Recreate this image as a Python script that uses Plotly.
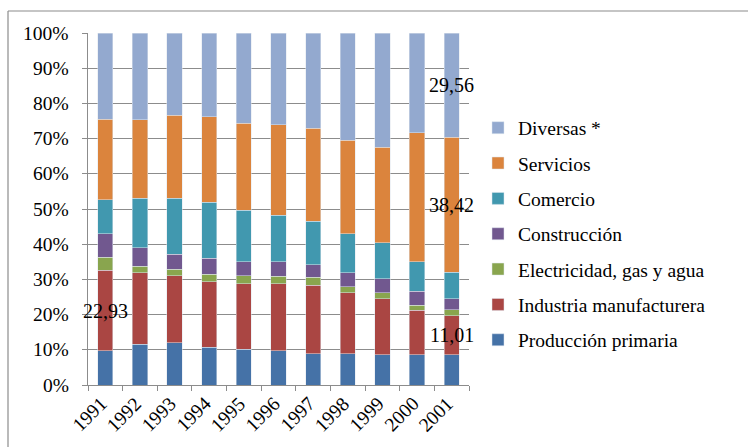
import plotly.graph_objects as go

# Participación por sector, 1991-2001 (%)
years = list(range(1991, 2002))
produccion_primaria = [9.7, 11.6, 12.0, 10.7, 10.2, 9.7, 8.9, 8.9, 8.6, 8.6, 8.61]
industria_manufacturera = [22.93, 20.3, 19.0, 18.6, 18.5, 19.0, 19.5, 17.3, 15.9, 12.7, 11.01]
electricidad_gas_agua = [3.7, 1.9, 1.9, 2.2, 2.3, 2.2, 2.2, 1.7, 1.7, 1.4, 1.7]
construccion = [6.6, 5.2, 4.2, 4.5, 4.0, 4.1, 3.6, 4.0, 4.0, 4.0, 3.2]
comercio = [9.7, 14.1, 16.0, 15.9, 14.6, 13.2, 12.3, 11.1, 10.2, 8.3, 7.5]
servicios = [22.9, 22.2, 23.5, 24.3, 24.8, 25.7, 26.5, 26.5, 27.2, 36.6, 38.42]
diversas = [24.47, 24.7, 23.4, 23.8, 25.6, 26.1, 27.0, 30.5, 32.4, 28.4, 29.56]

y_ticks = list(range(0, 101, 10))

series = [
    ("Producción primaria", produccion_primaria, "#4572A7"),
    ("Industria manufacturera", industria_manufacturera, "#AA4643"),
    ("Electricidad, gas y agua", electricidad_gas_agua, "#89A54E"),
    ("Construcción", construccion, "#71588F"),
    ("Comercio", comercio, "#4198AF"),
    ("Servicios", servicios, "#DB843D"),
    ("Diversas *", diversas, "#93A9CF"),
]

# Segment values written on the bars: (series index, year)
labelled = [(1, 1991), (6, 2001), (5, 2001), (1, 2001)]

FONT = "Liberation Serif"
GRID = "#8c8c8c"

fig = go.Figure()
n = len(series)
for i, (name, vals, color) in enumerate(series):
    fig.add_trace(go.Bar(
        x=years, y=vals, name=name, legendgroup=name,
        legendrank=n - i,  # top segment listed first
        marker=dict(color=color, line=dict(color="#dfe6ee", width=0.5)),
    ))

annotations = []
for si, yr in labelled:
    k = years.index(yr)
    below = sum(series[j][1][k] for j in range(si))
    v = series[si][1][k]
    annotations.append(dict(
        x=yr, y=below + v / 2, xref="x", yref="y",
        text=f"{v:.2f}".replace(".", ","), showarrow=False,
        font=dict(family=FONT, size=20, color="black"),
    ))

# axis labels in the serif face
for v in y_ticks:
    annotations.append(dict(
        x=0, y=v, xref="paper", yref="y", text=f"{v}%", showarrow=False,
        xanchor="right", yanchor="middle", xshift=-17,
        font=dict(family=FONT, size=19.5, color="black"),
    ))
for yr in years:
    annotations.append(dict(
        x=yr, y=0, xref="x", yref="y", text=str(yr), showarrow=False,
        textangle=-45, xanchor="right", yanchor="top", xshift=8, yshift=-5,
        font=dict(family=FONT, size=19.5, color="black"),
    ))

# pixel geometry of the plot area
L, R, T, B = 88, 469, 33, 385
W, H = 748, 447
def px(xp):
    return (xp - L) / (R - L)
def py(yp):
    return (B - yp) / (B - T)

shapes = [
    dict(type="line", xref="paper", yref="paper", x0=px(8), x1=px(748), y0=py(11), y1=py(11),
         line=dict(color=GRID, width=1.2)),
    dict(type="line", xref="paper", yref="paper", x0=px(8), x1=px(8), y0=py(11), y1=py(447),
         line=dict(color=GRID, width=1.2)),
]

boundaries = [y - 0.5 for y in years] + [years[-1] + 0.5]

fig.update_layout(
    width=W, height=H,
    margin=dict(l=L, r=W - R, t=T, b=H - B),
    barmode="stack", bargap=0.56,
    plot_bgcolor="white", paper_bgcolor="white",
    font=dict(family=FONT, size=18, color="black"),
    showlegend=True,
    legend=dict(
        x=px(478), y=py(234), xanchor="left", yanchor="middle",
        traceorder="grouped", tracegroupgap=7,
        font=dict(family=FONT, size=19.5, color="black"),
        bgcolor="rgba(0,0,0,0)",
    ),
    xaxis=dict(
        range=[boundaries[0], boundaries[-1]], tickvals=years, showticklabels=False,
        showline=True, linecolor=GRID, linewidth=1, ticks="", showgrid=False,
        zeroline=False, automargin=False,
        minor=dict(tickvals=boundaries, ticks="outside", ticklen=5, tickcolor=GRID, showgrid=False),
    ),
    yaxis=dict(
        range=[0, 100], tickvals=y_ticks, showticklabels=False,
        showgrid=True, gridcolor=GRID, gridwidth=1,
        showline=True, linecolor=GRID, linewidth=1,
        ticks="outside", ticklen=5, tickcolor=GRID, zeroline=False, automargin=False,
    ),
    annotations=annotations,
    shapes=shapes,
)

fig.write_html("out.html")
